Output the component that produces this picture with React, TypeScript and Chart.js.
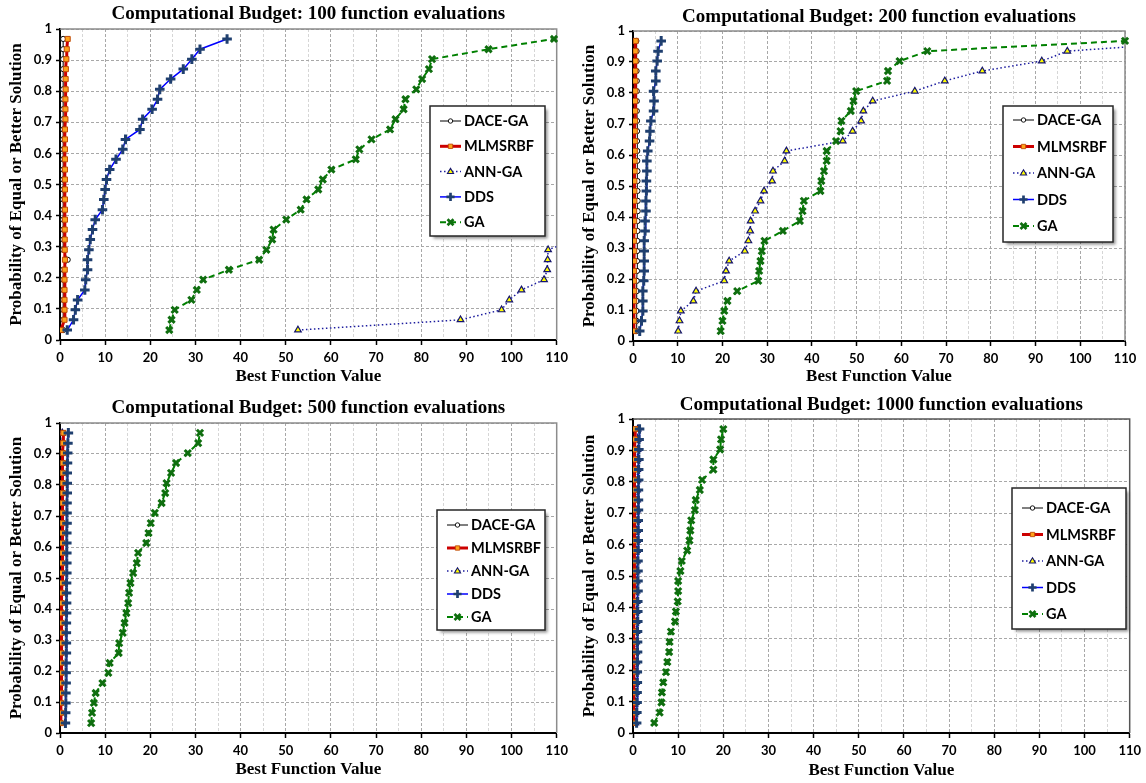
import React, { useEffect, useRef } from "react";
import { Chart, registerables } from "chart.js";
Chart.register(...registerables);

// ---------- DATA ----------
const SERIES_NAMES = ["DACE-GA", "MLMSRBF", "ANN-GA", "DDS", "GA"];

// probability levels (k/31) shared by every series
const PROB = [0.032, 0.065, 0.097, 0.129, 0.161, 0.194, 0.226, 0.258, 0.29, 0.323, 0.355, 0.387, 0.419, 0.452, 0.484,
  0.516, 0.548, 0.581, 0.613, 0.645, 0.677, 0.71, 0.742, 0.774, 0.806, 0.839, 0.871, 0.903, 0.935, 0.968];

const X_TICK_VALUES = [0, 10, 20, 30, 40, 50, 60, 70, 80, 90, 100, 110];
const Y_TICK_VALUES = [0, 0.1, 0.2, 0.3, 0.4, 0.5, 0.6, 0.7, 0.8, 0.9, 1];

// Budget 100
const B100_DACE = [0.7, 0.7, 0.7, 0.7, 0.7, 0.7, 0.7, 1.7, 0.7, 0.7, 0.7, 0.7, 0.7, 0.7, 0.7, 0.7, 0.7, 0.7, 0.7, 0.7, 0.7, 0.7, 0.7, 0.7, 0.7, 0.7, 0.7, 0.7, 0.7, 0.7];
const B100_MLMSRBF = [0.2, 1.0, 1.0, 1.0, 1.0, 1.0, 1.05, 1.1, 1.05, 1.05, 1.05, 1.1, 1.1, 1.1, 1.1, 1.1, 1.1, 1.1, 1.1, 1.1, 1.1, 1.2, 1.2, 1.2, 1.25, 1.25, 1.3, 1.4, 1.5, 1.7];
const B100_ANN = [52.7, 88.7, 97.8, 99.5, 102.2, 107.2, 107.9, 108.0, 108.1, 114];
const B100_DDS = [1.6, 3.0, 3.4, 3.9, 5.5, 5.7, 6.1, 6.1, 6.4, 6.7, 7.2, 7.8, 9.4, 9.7, 10.0, 10.3, 11.0, 12.4, 13.9, 14.5, 17.7, 18.3, 20.4, 21.6, 22.1, 24.5, 27.3, 29.2, 31.0, 37.0];
const B100_GA = [24.2, 24.7, 25.4, 29.1, 30.3, 31.7, 37.4, 44.1, 45.7, 47.0, 47.3, 50.1, 53.3, 54.6, 57.2, 58.2, 60.1, 65.5, 66.3, 69.0, 73.1, 74.3, 76.1, 76.5, 78.9, 80.2, 81.7, 82.4, 94.9, 109.4];

// Budget 200
const B200_DACE = [0.7, 0.8, 0.8, 0.85, 0.85, 0.85, 0.9, 0.9, 0.9, 0.95, 1.0, 1.0, 1.05, 1.05, 1.0, 1.0, 1.0, 0.95, 0.95, 0.9, 0.9, 0.9, 0.85, 0.85, 0.85, 0.85, 0.8, 0.8, 0.8, 0.75];
const B200_MLMSRBF = [0.2, 0.2, 0.2, 0.25, 0.25, 0.2, 0.2, 0.25, 0.25, 0.2, 0.2, 0.25, 0.25, 0.3, 0.3, 0.3, 0.35, 0.35, 0.4, 0.4, 0.4, 0.45, 0.45, 0.45, 0.5, 0.5, 0.5, 0.55, 0.55, 0.6];
const B200_ANN = [10.1, 10.4, 10.7, 13.5, 14.1, 20.4, 20.8, 21.5, 25.0, 25.8, 26.2, 26.3, 27.3, 28.5, 29.3, 31.1, 31.3, 33.9, 34.3, 46.9, 49.1, 51.0, 51.5, 53.6, 63.0, 69.7, 78.1, 91.4, 97.1, 130];
const B200_DDS = [1.5, 1.9, 2.2, 2.2, 2.2, 2.4, 2.5, 2.5, 2.5, 2.5, 2.7, 2.7, 2.9, 2.9, 3.0, 3.0, 3.1, 3.1, 3.3, 3.7, 3.8, 4.0, 4.6, 4.7, 4.6, 5.1, 5.1, 5.4, 5.6, 6.3];
const B200_GA = [19.6, 20.0, 20.4, 21.1, 23.3, 28.0, 28.2, 28.5, 28.8, 29.4, 33.5, 37.3, 37.9, 38.2, 41.9, 42.1, 42.7, 43.3, 43.3, 45.4, 46.4, 46.6, 48.7, 49.3, 49.9, 56.8, 57.0, 59.6, 65.8, 110];

// Budget 500
const B500_DACE = [0.2, 0.2, 0.25, 0.25, 0.3, 0.3, 0.3, 0.35, 0.35, 0.35, 0.4, 0.4, 0.4, 0.4, 0.45, 0.45, 0.45, 0.45, 0.5, 0.5, 0.5, 0.5, 0.55, 0.55, 0.55, 0.6, 0.6, 0.6, 0.65, 0.65];
const B500_MLMSRBF = [0.15, 0.2, 0.2, 0.25, 0.25, 0.3, 0.3, 0.3, 0.35, 0.35, 0.35, 0.4, 0.4, 0.4, 0.45, 0.45, 0.45, 0.5, 0.5, 0.5, 0.55, 0.55, 0.55, 0.6, 0.6, 0.6, 0.65, 0.65, 0.7, 0.75];
const B500_ANN = [0.0, 0.05, 0.05, 0.1, 0.1, 0.1, 0.15, 0.15, 0.15, 0.2, 0.2, 0.2, 0.2, 0.25, 0.25, 0.25, 0.3, 0.3, 0.3, 0.3, 0.35, 0.35, 0.35, 0.4, 0.4, 0.4, 0.45, 0.45, 0.5, 0.5];
const B500_DDS = [1.2, 1.25, 1.3, 1.3, 1.35, 1.35, 1.35, 1.4, 1.4, 1.4, 1.4, 1.45, 1.45, 1.45, 1.45, 1.5, 1.5, 1.5, 1.5, 1.5, 1.55, 1.55, 1.55, 1.6, 1.6, 1.6, 1.65, 1.7, 1.75, 1.85];
const B500_GA = [6.9, 7.1, 7.5, 7.9, 9.4, 10.7, 11.0, 13.0, 13.1, 13.9, 14.3, 14.7, 15.1, 15.3, 15.6, 16.2, 17.0, 17.3, 19.1, 19.6, 20.1, 21.0, 22.5, 23.3, 23.6, 24.6, 25.7, 28.3, 30.6, 31.0];

// Budget 1000
const B1000_DACE = [0.2, 0.2, 0.25, 0.25, 0.25, 0.3, 0.3, 0.3, 0.3, 0.35, 0.35, 0.35, 0.35, 0.4, 0.4, 0.4, 0.4, 0.4, 0.45, 0.45, 0.45, 0.45, 0.5, 0.5, 0.5, 0.5, 0.55, 0.55, 0.55, 0.6];
const B1000_MLMSRBF = [0.05, 0.1, 0.1, 0.1, 0.15, 0.15, 0.15, 0.15, 0.2, 0.2, 0.2, 0.2, 0.2, 0.25, 0.25, 0.25, 0.25, 0.3, 0.3, 0.3, 0.3, 0.3, 0.35, 0.35, 0.35, 0.4, 0.4, 0.4, 0.45, 0.5];
const B1000_ANN = [0.5, 0.55, 0.6, 0.6, 0.65, 0.65, 0.7, 0.7, 0.7, 0.75, 0.75, 0.75, 0.8, 0.8, 0.8, 0.8, 0.85, 0.85, 0.85, 0.85, 0.9, 0.9, 0.9, 0.9, 0.95, 0.95, 0.95, 1.0, 1.0, 1.05];
const B1000_DDS = [0.8, 0.85, 0.9, 0.9, 0.95, 0.95, 1.0, 1.0, 1.0, 1.0, 1.05, 1.05, 1.05, 1.1, 1.1, 1.1, 1.1, 1.15, 1.15, 1.15, 1.15, 1.2, 1.2, 1.2, 1.25, 1.25, 1.3, 1.3, 1.35, 1.45];
const B1000_GA = [4.7, 5.9, 6.3, 6.4, 6.7, 7.3, 7.6, 8.0, 8.1, 8.4, 9.3, 9.5, 9.9, 10.0, 10.0, 10.5, 10.8, 12.0, 12.5, 12.7, 12.9, 13.7, 13.9, 14.8, 15.3, 17.8, 17.8, 19.3, 19.5, 20.0];

const BUDGETS = [100, 200, 500, 1000];

// ---------- STYLES ----------
const SERIES_STYLE = [
  { borderColor: "#000000", borderWidth: 1, borderDash: [], pointStyle: "circle", pointRadius: 2.6, pointBackgroundColor: "#ffffff", pointBorderColor: "#000000", pointBorderWidth: 1, order: 5 },
  { borderColor: "#cc0000", borderWidth: 3, borderDash: [], pointStyle: "rect", pointRadius: 3.6, pointBackgroundColor: "#ffa31a", pointBorderColor: "#c04a08", pointBorderWidth: 1, order: 3 },
  { borderColor: "#1c1c9e", borderWidth: 1.5, borderDash: [1.5, 2.5], pointStyle: "triangle", pointRadius: 3.8, pointBackgroundColor: "#ffff00", pointBorderColor: "#14146e", pointBorderWidth: 1.2, order: 4 },
  { borderColor: "#0000ff", borderWidth: 1.5, borderDash: [], pointStyle: "cross", pointRadius: 4.8, pointBackgroundColor: "#1f3f6f", pointBorderColor: "#1f3f6f", pointBorderWidth: 3, order: 2 },
  { borderColor: "#008000", borderWidth: 2, borderDash: [6, 4], pointStyle: "crossRot", pointRadius: 4.4, pointBackgroundColor: "#0f6e0f", pointBorderColor: "#0f6e0f", pointBorderWidth: 3, order: 1 },
];

type Panel = {
  left: number; top: number; width: number; height: number;
  series: number[][];
  titlePad: { top: number; bottom: number };
  xAxisHeight: number; xTitlePad: number; rightPad: number;
  legend: { x: number; y: number; w: number; h: number; rowTop: number; rowGap: number };
  frameColor: string;
};

const PANELS: Panel[] = [
  { left: 0, top: 0, width: 573, height: 392, series: [B100_DACE, B100_MLMSRBF, B100_ANN, B100_DDS, B100_GA],
    titlePad: { top: 2.6, bottom: 3.6 }, xAxisHeight: 52, xTitlePad: 4.8, rightPad: 16,
    legend: { x: 430, y: 106, w: 115, h: 130, rowTop: 15, rowGap: 25.3 }, frameColor: "#8c8c8c" },
  { left: 573, top: 0, width: 573, height: 392, series: [B200_DACE, B200_MLMSRBF, B200_ANN, B200_DDS, B200_GA],
    titlePad: { top: 5.6, bottom: 2.6 }, xAxisHeight: 51, xTitlePad: 4.8, rightPad: 21,
    legend: { x: 430, y: 106, w: 110, h: 136, rowTop: 14, rowGap: 26.5 }, frameColor: "#8c8c8c" },
  { left: 0, top: 392, width: 573, height: 391, series: [B500_DACE, B500_MLMSRBF, B500_ANN, B500_DDS, B500_GA],
    titlePad: { top: 4.6, bottom: 3.6 }, xAxisHeight: 50, xTitlePad: 2.8, rightPad: 16,
    legend: { x: 437, y: 118, w: 108, h: 120, rowTop: 15, rowGap: 23 }, frameColor: "#8c8c8c" },
  { left: 573, top: 392, width: 573, height: 391, series: [B1000_DACE, B1000_MLMSRBF, B1000_ANN, B1000_DDS, B1000_GA],
    titlePad: { top: 1.6, bottom: 2.6 }, xAxisHeight: 50, xTitlePad: 1.8, rightPad: 12,
    legend: { x: 439, y: 96, w: 114, h: 141, rowTop: 20, rowGap: 26.5 }, frameColor: "#555555" },
];

function drawMarker(ctx: CanvasRenderingContext2D, style: string, x: number, y: number, r: number, fill: string, stroke: string, lw: number) {
  ctx.save();
  ctx.setLineDash([]);
  ctx.fillStyle = fill;
  ctx.strokeStyle = stroke;
  ctx.lineWidth = lw;
  ctx.beginPath();
  if (style === "circle") {
    ctx.arc(x, y, r, 0, Math.PI * 2);
    ctx.fill(); ctx.stroke();
  } else if (style === "rect") {
    const s = r * Math.SQRT1_2;
    ctx.rect(x - s, y - s, 2 * s, 2 * s);
    ctx.fill(); ctx.stroke();
  } else if (style === "triangle") {
    ctx.moveTo(x, y - r);
    ctx.lineTo(x + r * 0.95, y + r * 0.6);
    ctx.lineTo(x - r * 0.95, y + r * 0.6);
    ctx.closePath();
    ctx.fill(); ctx.stroke();
  } else if (style === "cross") {
    ctx.moveTo(x - r, y); ctx.lineTo(x + r, y);
    ctx.moveTo(x, y - r); ctx.lineTo(x, y + r);
    ctx.stroke();
  } else if (style === "crossRot") {
    const d = r * 0.8;
    ctx.moveTo(x - d, y - d); ctx.lineTo(x + d, y + d);
    ctx.moveTo(x + d, y - d); ctx.lineTo(x - d, y + d);
    ctx.stroke();
  }
  ctx.restore();
}

const framePlugin = {
  id: "frame",
  beforeDatasetsDraw(chart: any, _args: any, opts: any) {
    const { ctx, chartArea } = chart;
    ctx.save();
    ctx.strokeStyle = opts.color || "#8c8c8c";
    ctx.lineWidth = 1.5;
    ctx.beginPath();
    ctx.moveTo(chartArea.left, chartArea.top);
    ctx.lineTo(chartArea.right, chartArea.top);
    ctx.lineTo(chartArea.right, chartArea.bottom);
    ctx.stroke();
    ctx.restore();
  },
};

const boxLegendPlugin = {
  id: "boxLegend",
  afterDraw(chart: any, _args: any, opts: any) {
    const { x, y, w, h, rowTop, rowGap } = opts;
    const ctx: CanvasRenderingContext2D = chart.ctx;
    ctx.save();
    ctx.shadowColor = "rgba(0,0,0,0.45)";
    ctx.shadowBlur = 3;
    ctx.shadowOffsetX = 2.5;
    ctx.shadowOffsetY = 2.5;
    ctx.fillStyle = "#ffffff";
    ctx.fillRect(x, y, w, h);
    ctx.shadowColor = "transparent";
    ctx.strokeStyle = "#262626";
    ctx.lineWidth = 1.5;
    ctx.strokeRect(x, y, w, h);
    chart.data.datasets.forEach((ds: any, i: number) => {
      const cy = y + rowTop + i * rowGap;
      ctx.save();
      ctx.setLineDash(ds.borderDash || []);
      ctx.strokeStyle = ds.borderColor;
      ctx.lineWidth = ds.borderWidth;
      ctx.beginPath();
      ctx.moveTo(x + 10, cy);
      ctx.lineTo(x + 31, cy);
      ctx.stroke();
      ctx.restore();
      drawMarker(ctx, ds.pointStyle, x + 20.5, cy, ds.pointRadius * 0.85, ds.pointBackgroundColor, ds.pointBorderColor, ds.pointBorderWidth * 0.9);
      ctx.fillStyle = "#000000";
      ctx.font = "bold 14.5px Lato";
      ctx.textBaseline = "middle";
      ctx.textAlign = "left";
      ctx.fillText(ds.label, x + 34, cy + 0.5);
    });
    ctx.restore();
  },
};

function ChartPanel({ panel, budget }: { panel: Panel; budget: number }) {
  const ref = useRef<HTMLCanvasElement | null>(null);
  useEffect(() => {
    if (!ref.current) return;
    const datasets = SERIES_NAMES.map((name, i) => ({
      label: name,
      data: panel.series[i].map((v, k) => ({ x: v, y: PROB[k] })),
      ...SERIES_STYLE[i],
      fill: false,
      tension: 0,
      clip: i === 4 ? 6 : 0,
    }));
    const tickFont = { family: "Lato", weight: "bold" as const, size: 13 };
    const chart = new Chart(ref.current, {
      type: "line",
      data: { datasets: datasets as any },
      plugins: [framePlugin, boxLegendPlugin],
      options: {
        animation: false,
        responsive: false,
        maintainAspectRatio: false,
        layout: { padding: { left: 0, right: panel.rightPad, top: 0, bottom: 0 } },
        plugins: {
          legend: { display: false },
          tooltip: { enabled: false },
          title: {
            display: true,
            fullSize: false,
            text: `Computational Budget: ${budget} function evaluations`,
            color: "#000000",
            font: { family: "Liberation Serif", weight: "bold", size: 19 },
            padding: panel.titlePad,
          },
          frame: { color: panel.frameColor },
          boxLegend: panel.legend,
        } as any,
        scales: {
          x: {
            type: "linear",
            min: 0,
            max: 110,
            afterFit: (s: any) => { s.height = panel.xAxisHeight; },
            afterBuildTicks: (s: any) => {
              const out: any[] = [];
              X_TICK_VALUES.forEach((v, i) => {
                out.push({ value: v });
                if (i < X_TICK_VALUES.length - 1) out.push({ value: v + 5, minor: true });
              });
              s.ticks = out;
            },
            ticks: {
              autoSkip: false,
              maxRotation: 0,
              color: "#000000",
              font: tickFont,
              padding: 5,
              callback: (v: any) => (X_TICK_VALUES.includes(Number(v)) ? String(v) : ""),
            },
            grid: {
              color: (c: any) => (c.tick && X_TICK_VALUES.includes(c.tick.value) ? "#a8a8a8" : "#d6d6d6"),
              lineWidth: 1,
              tickLength: 5,
              tickColor: (c: any) => (c.tick && X_TICK_VALUES.includes(c.tick.value) ? "#000000" : "rgba(0,0,0,0)"),
              tickWidth: 1.5,
              tickBorderDash: [],
            } as any,
            border: { color: "#000000", width: 2, dash: [3, 2] },
            title: {
              display: true,
              text: "Best Function Value",
              color: "#000000",
              font: { family: "Liberation Serif", weight: "bold", size: 17 },
              padding: { top: 0, bottom: panel.xTitlePad },
            },
          },
          y: {
            type: "linear",
            min: 0,
            max: 1,
            afterFit: (s: any) => { s.width = 60; },
            afterBuildTicks: (s: any) => { s.ticks = Y_TICK_VALUES.map((v) => ({ value: v })); },
            ticks: {
              color: "#000000",
              font: tickFont,
              padding: 4,
              callback: (v: any) => String(Math.round(Number(v) * 10) / 10),
            },
            grid: {
              color: "#a8a8a8",
              lineWidth: 1,
              tickLength: 4,
              tickColor: "#000000",
              tickWidth: 1.5,
              tickBorderDash: [],
            } as any,
            border: { color: "#000000", width: 2, dash: [3, 2] },
            title: {
              display: true,
              text: "Probability of Equal or Better Solution",
              color: "#000000",
              font: { family: "Liberation Serif", weight: "bold", size: 17 },
              padding: { top: 6.8, bottom: 0 },
            },
          },
        },
      },
    });
    return () => chart.destroy();
  }, [panel, budget]);
  return (
    <div style={{ position: "absolute", left: panel.left, top: panel.top, width: panel.width, height: panel.height }}>
      <canvas ref={ref} width={panel.width} height={panel.height} style={{ width: panel.width, height: panel.height, display: "block" }} />
    </div>
  );
}

export default function App() {
  return (
    <div style={{ position: "absolute", left: 0, top: 0, width: 1146, height: 783, background: "#ffffff" }}>
      {PANELS.map((p, i) => (
        <ChartPanel key={i} panel={p} budget={BUDGETS[i]} />
      ))}
    </div>
  );
}
